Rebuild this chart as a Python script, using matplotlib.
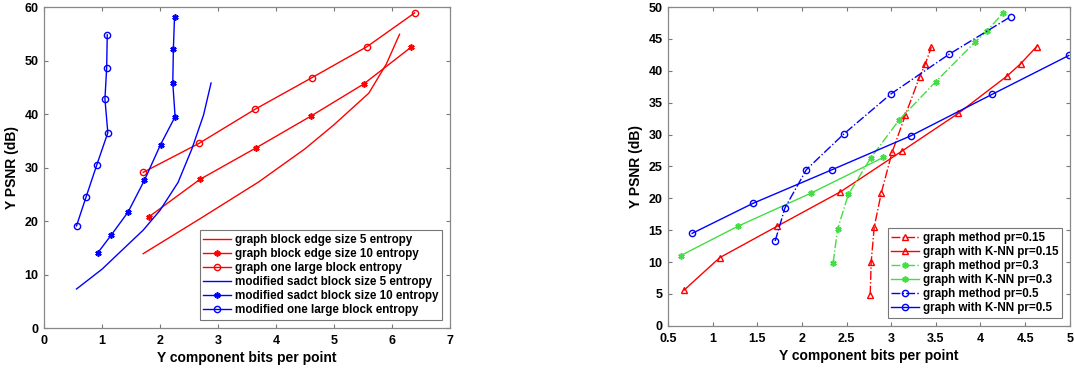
import numpy as np
import matplotlib.pyplot as plt

plt.rcParams['font.family'] = ['Liberation Sans', 'DejaVu Sans']
plt.rcParams['font.weight'] = 'bold'

# left panel data
sadct5_x = [0.56, 1.0, 1.34, 1.71, 2.0, 2.31, 2.55, 2.75, 2.88]
sadct5_y = [7.3, 11.0, 14.5, 18.3, 22.0, 27.2, 33.5, 39.8, 45.8]
sadct10_x = [0.93, 1.16, 1.45, 1.73, 2.01, 2.26, 2.22, 2.23, 2.25]
sadct10_y = [14.1, 17.4, 21.7, 27.6, 34.3, 39.5, 45.8, 52.1, 58.2]
mod_one_x = [0.56, 0.725, 0.91, 1.10, 1.05, 1.08, 1.09]
mod_one_y = [19.1, 24.5, 30.5, 36.5, 42.8, 48.6, 54.8]
edge5_x = [1.71, 2.7, 3.7, 4.5, 5.0, 5.6, 5.9, 6.13]
edge5_y = [13.9, 20.5, 27.3, 33.5, 38.0, 43.9, 49.3, 54.9]
edge10_x = [1.81, 2.69, 3.66, 4.60, 5.51, 6.33]
edge10_y = [20.8, 27.8, 33.7, 39.6, 45.6, 52.5]
one_x = [1.71, 2.67, 3.64, 4.62, 5.57, 6.39]
one_y = [29.1, 34.5, 40.9, 46.8, 52.6, 58.9]

# right panel data
gm15_x = [2.765, 2.776, 2.81, 2.89, 3.01, 3.16, 3.32, 3.38, 3.45]
gm15_y = [4.9, 10.0, 15.5, 20.9, 27.2, 33.1, 39.1, 41.0, 43.7]
kn15_x = [0.68, 1.08, 1.72, 2.43, 3.12, 3.75, 4.30, 4.45, 4.63]
kn15_y = [5.6, 10.7, 15.6, 21.0, 27.4, 33.3, 39.2, 41.1, 43.8]
gm30_x = [2.35, 2.40, 2.52, 2.77, 3.09, 3.50, 3.94, 4.07, 4.25]
gm30_y = [9.9, 15.2, 20.6, 26.3, 32.3, 38.3, 44.5, 46.2, 49.0]
kn30_x = [0.64, 1.28, 2.10, 2.91]
kn30_y = [11.0, 15.6, 20.8, 26.4]
gm50_x = [1.70, 1.81, 2.05, 2.47, 3.0, 3.65, 4.34]
gm50_y = [13.3, 18.5, 24.5, 30.1, 36.4, 42.6, 48.5]
kn50_x = [0.77, 1.45, 2.34, 3.22, 4.13, 4.99]
kn50_y = [14.5, 19.2, 24.5, 29.8, 36.3, 42.4]

red = '#ff0000'
blue = '#0000ff'
green = '#44dd44'
star = (6, 2, 0)  # matlab style asterisk

fig = plt.figure(figsize=(10.74, 3.69), dpi=100)
ax1 = fig.add_axes([0.041, 0.111, 0.378, 0.870])
ax2 = fig.add_axes([0.622, 0.117, 0.374, 0.864])

ms = 4.5
ax1.plot(edge5_x, edge5_y, '-', color=red, lw=1, label='graph block edge size 5 entropy')
ax1.plot(edge10_x, edge10_y, '-', marker=star, color=red, lw=1, ms=ms, mew=1.2, label='graph block edge size 10 entropy')
ax1.plot(one_x, one_y, '-o', color=red, lw=1, ms=ms, mfc='none', label='graph one large block entropy')
ax1.plot(sadct5_x, sadct5_y, '-', color=blue, lw=1, label='modified sadct block size 5 entropy')
ax1.plot(sadct10_x, sadct10_y, '-', marker=star, color=blue, lw=1, ms=ms, mew=1.2, label='modified sadct block size 10 entropy')
ax1.plot(mod_one_x, mod_one_y, '-o', color=blue, lw=1, ms=ms, mfc='none', label='modified one large block entropy')
ax1.set_xlim(0, 7)
ax1.set_ylim(0, 60)
ax1.set_xticks(range(0, 8))
ax1.set_yticks(range(0, 61, 10))

ax2.plot(gm15_x, gm15_y, '-.^', color=red, lw=1, ms=ms, mfc='none', label='graph method pr=0.15')
ax2.plot(kn15_x, kn15_y, '-^', color=red, lw=1, ms=ms, mfc='none', label='graph with K-NN pr=0.15')
ax2.plot(gm30_x, gm30_y, '-.', marker=star, color=green, lw=1, ms=ms, mew=1.2, label='graph method pr=0.3')
ax2.plot(kn30_x, kn30_y, '-', marker=star, color=green, lw=1, ms=ms, mew=1.2, label='graph with K-NN pr=0.3')
ax2.plot(gm50_x, gm50_y, '-.o', color=blue, lw=1, ms=ms, mfc='none', label='graph method pr=0.5')
ax2.plot(kn50_x, kn50_y, '-o', color=blue, lw=1, ms=ms, mfc='none', label='graph with K-NN pr=0.5')
ax2.set_xlim(0.5, 5)
ax2.set_ylim(0, 50)
ax2.set_xticks(np.arange(0.5, 5.01, 0.5))
ax2.set_xticklabels(['0.5', '1', '1.5', '2', '2.5', '3', '3.5', '4', '4.5', '5'])
ax2.set_yticks(range(0, 51, 5))

for ax in (ax1, ax2):
    ax.set_xlabel('Y component bits per point', fontsize=10, fontweight='bold', labelpad=3)
    ax.set_ylabel('Y PSNR (dB)', fontsize=10, fontweight='bold', labelpad=4)
    ax.tick_params(direction='in', top=True, right=True, labelsize=9, length=3,
                   color='#777777')
    ax.tick_params(axis='x', pad=5)
    ax.tick_params(axis='y', pad=4)
    for sp in ax.spines.values():
        sp.set_color('#888888')
        sp.set_linewidth(0.9)
    leg = ax.legend(loc='lower right', fontsize=8.4, frameon=True, fancybox=False,
                    edgecolor='#555555', handlelength=2.4, handletextpad=0.3,
                    labelspacing=0.18, borderpad=0.3, borderaxespad=0.7)
    leg.get_frame().set_linewidth(0.8)

fig.savefig('out.png', dpi=100)
